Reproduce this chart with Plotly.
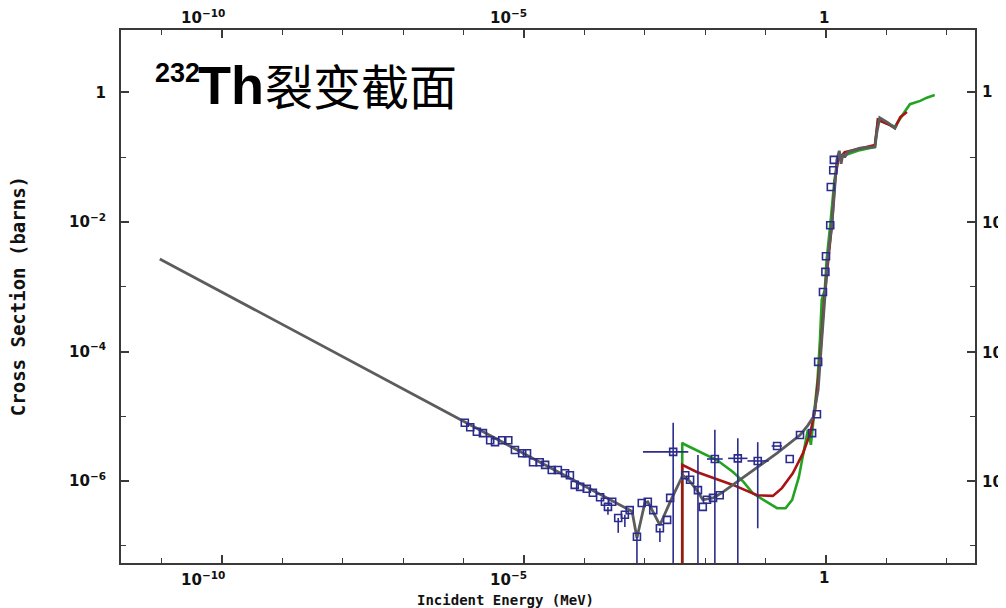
import numpy as np
import plotly.graph_objects as go

# ---- data (log10 of energy in MeV, log10 of cross section in barns) ----
gray_logE = [-11.03, -3.30, -3.21, -3.13, -3.00, -2.95, -2.75, -2.55, -2.37, -2.25, -2.14, -2.04,
             -1.87, -1.72, -1.47, -1.09, -0.81, -0.43, -0.30, -0.21, -0.13, -0.07, -0.02, 0.03,
             0.10, 0.15, 0.18, 0.22, 0.25, 0.28, 0.31, 0.36, 0.56, 0.81, 0.84, 0.89, 1.03, 1.14, 1.17]
gray_logS = [-2.57, -6.43, -6.47, -6.88, -6.34, -6.32, -6.68, -6.26, -5.91, -6.01, -6.14, -6.29,
             -6.26, -6.18, -6.01, -5.75, -5.57, -5.29, -5.14, -5.01, -4.59, -3.82, -3.10, -2.55,
             -2.02, -1.35, -1.04, -0.90, -1.10, -0.95, -1.00, -0.92, -0.86, -0.84, -0.63, -0.39,
             -0.47, -0.55, -0.50]

red_logE = [-2.38, -2.38, -2.14, -1.87, -1.54, -1.14, -0.88, -0.73, -0.55, -0.38, -0.26, -0.18,
            -0.10, -0.03, 0.03, 0.10, 0.15, 0.20, 0.31, 0.56, 0.81, 0.86, 1.03, 1.14, 1.23, 1.34]
red_logS = [-9.0, -5.75, -5.86, -5.95, -6.06, -6.22, -6.23, -6.11, -5.88, -5.57, -5.26, -4.90,
            -4.13, -3.20, -2.62, -2.02, -1.35, -1.04, -0.92, -0.86, -0.81, -0.42, -0.49, -0.55,
            -0.38, -0.30]

green_logE = [-2.38, -2.38, -2.33, -2.09, -1.80, -1.54, -1.37, -1.21, -0.98, -0.81, -0.67, -0.56,
              -0.45, -0.36, -0.30, -0.25, -0.19, -0.14, -0.10, -0.07, -0.02, 0.01, 0.07, 0.14,
              0.20, 0.31, 0.56, 0.81, 0.86, 1.03, 1.14, 1.30, 1.39, 1.56, 1.67, 1.80]
green_logS = [-9.0, -5.41, -5.44, -5.55, -5.68, -5.86, -6.01, -6.19, -6.32, -6.42, -6.42, -6.29,
              -5.94, -5.52, -5.21, -5.44, -4.94, -4.44, -3.82, -3.20, -3.05, -2.59, -2.05, -1.35,
              -1.04, -0.97, -0.89, -0.84, -0.42, -0.49, -0.53, -0.30, -0.18, -0.13, -0.08, -0.04]

# experimental points
pts_logE = [-5.98, -5.89, -5.78, -5.68, -5.56, -5.48, -5.36, -5.26, -5.15, -5.03, -4.95, -4.85,
            -4.74, -4.65, -4.54, -4.44, -4.32, -4.24, -4.16, -4.07, -3.96, -3.86, -3.74, -3.66,
            -3.61, -3.54, -3.44, -3.33, -3.25, -3.13, -3.05, -2.95, -2.86, -2.75, -2.63, -2.58,
            -2.53, -2.33, -2.25, -2.12, -2.04, -1.97, -1.87, -1.76, -1.84, -1.46, -1.13, -0.81,
            -0.60, -0.43, -0.23, -0.15, -0.13, -0.05, -0.01, 0.00, 0.07, 0.08, 0.12, 0.13]
pts_logS = [-5.10, -5.17, -5.24, -5.26, -5.37, -5.40, -5.37, -5.37, -5.52, -5.57, -5.57, -5.71,
            -5.71, -5.75, -5.83, -5.83, -5.88, -5.91, -6.06, -6.09, -6.12, -6.18, -6.25, -6.32,
            -6.40, -6.32, -6.57, -6.52, -6.45, -6.86, -6.34, -6.32, -6.45, -6.73, -6.60, -6.26,
            -5.55, -5.91, -5.98, -6.14, -6.40, -6.29, -6.26, -6.22, -5.66, -5.65, -5.69, -5.46,
            -5.66, -5.29, -5.26, -4.97, -4.16, -3.08, -2.77, -2.53, -2.05, -1.46, -1.20, -1.04]
# error bars: index -> (log upper, log lower), None = no bar on that side
err_y_log = {24: (None, -6.52), 26: (None, -6.80), 27: (None, -6.71), 29: (None, -9.0),
             33: (None, -6.94), 36: (-5.10, -9.0), 39: (-5.60, -9.0), 44: (-5.21, -9.0),
             45: (-5.34, -9.0), 46: (-5.40, -6.73)}
err_x_log = {36: (-2.28, -3.03), 44: (-1.71, -1.97), 45: (-1.30, -1.62), 46: (-0.95, -1.30),
             47: (-0.73, -0.90)}

x_tick_vals = [-10, -5, 0]
x_tick_text = ["10<sup>−10</sup>", "10<sup>−5</sup>", "1"]
y_tick_vals = [0, -2, -4, -6]
y_tick_text = ["1", "10<sup>−2</sup>", "10<sup>−4</sup>", "10<sup>−6</sup>"]

# ---- build ----
def lin(a):
    return 10.0 ** np.array(a, dtype=float)

pE, pS = lin(pts_logE), lin(pts_logS)
ey_p = np.zeros(len(pE)); ey_m = np.zeros(len(pE))
ex_p = np.zeros(len(pE)); ex_m = np.zeros(len(pE))
for i, (up, lo) in err_y_log.items():
    if up is not None:
        ey_p[i] = 10 ** up - pS[i]
    if lo is not None:
        ey_m[i] = pS[i] - 10 ** lo
for i, (hi, lo) in err_x_log.items():
    ex_p[i] = 10 ** hi - pE[i]
    ex_m[i] = pE[i] - 10 ** lo

navy = "#2c2c8c"
fig = go.Figure()
fig.add_trace(go.Scatter(x=lin(green_logE), y=lin(green_logS), mode="lines",
                         line=dict(color="#22a322", width=2.6), showlegend=False))
fig.add_trace(go.Scatter(x=lin(red_logE), y=lin(red_logS), mode="lines",
                         line=dict(color="#a81414", width=2.6), showlegend=False))
fig.add_trace(go.Scatter(x=lin(gray_logE), y=lin(gray_logS), mode="lines",
                         line=dict(color="#5c5c5c", width=2.8), showlegend=False))
fig.add_trace(go.Scatter(x=pE, y=pS, mode="markers",
                         marker=dict(symbol="square-open", size=7, color=navy,
                                     line=dict(width=1.6, color=navy)),
                         error_y=dict(type="data", symmetric=False, array=ey_p, arrayminus=ey_m,
                                      color=navy, thickness=1.6, width=0),
                         error_x=dict(type="data", symmetric=False, array=ex_p, arrayminus=ex_m,
                                      color=navy, thickness=1.6, width=0),
                         showlegend=False))

frame = "#3a3a3a"
tickfont = dict(family="DejaVu Sans", size=15, color="#111", weight="bold")
fig.update_xaxes(type="log", range=[-11.672, 2.467], showline=True, linecolor=frame, linewidth=2,
                 mirror="allticks", ticks="inside", ticklen=8, tickwidth=1.5, tickcolor=frame,
                 tickvals=[10.0 ** v for v in x_tick_vals], showticklabels=False,
                 showgrid=False, zeroline=False, automargin=False,
                 minor=dict(tickvals=[10.0 ** k for k in range(-11, 3)], ticks="inside",
                            ticklen=5, tickwidth=1.3, tickcolor=frame, showgrid=False))
fig.update_yaxes(type="log", range=[-7.266, 0.965], showline=True, linecolor=frame, linewidth=2,
                 mirror="allticks", ticks="inside", ticklen=8, tickwidth=1.5, tickcolor=frame,
                 tickvals=[10.0 ** v for v in y_tick_vals], ticktext=y_tick_text,
                 tickfont=tickfont, ticklabelstandoff=10, automargin=False,
                 showgrid=False, zeroline=False,
                 minor=dict(tickvals=[10.0 ** k for k in (-1, -3, -5, -7)], ticks="inside",
                            ticklen=5, tickwidth=1.3, tickcolor=frame, showgrid=False))

ann = []
for v, t in zip(x_tick_vals, x_tick_text):
    anchor = "center" if t == "1" else "right"
    shift = -2 if t == "1" else 5
    for yy, ya in ((1.0, "bottom"), (0.0, "top")):
        ann.append(dict(x=v, y=yy, xref="x", yref="paper", text=t, showarrow=False,
                        xanchor=anchor, yanchor=ya, xshift=shift,
                        yshift=1 if ya == "bottom" else -4, font=tickfont))
for v, t in zip(y_tick_vals, y_tick_text):
    ann.append(dict(x=1.0, y=v, xref="paper", yref="y", text=t, showarrow=False,
                    xanchor="left", yanchor="middle", xshift=5, font=tickfont))

mono = "DejaVu Sans Mono"
ann.append(dict(x=0.45, y=-0.069, xref="paper", yref="paper", text="Incident Energy (MeV)",
                showarrow=False, xanchor="center", yanchor="middle",
                font=dict(family=mono, size=14, color="#111", weight="bold")))
ann.append(dict(x=-0.121, y=0.5, xref="paper", yref="paper", text="Cross Section (barns)",
                showarrow=False, textangle=-90, xanchor="center", yanchor="middle",
                font=dict(family=mono, size=19, color="#111", weight="bold")))

# title pieces (positions in paper units of the plot area: plot area spans 121..975 x 30..563 px)
W, H, L, T = 854.0, 533.0, 121.0, 30.0
def px(xp):
    return (xp - L) / W
def py(yp):
    return 1 - (yp - T) / H
ann.append(dict(x=px(153), y=py(73), xref="paper", yref="paper", text="232", showarrow=False,
                xanchor="left", yanchor="middle",
                font=dict(family="Liberation Sans", size=27, color="#000", weight="bold")))
ann.append(dict(x=px(196), y=py(85), xref="paper", yref="paper", text="Th", showarrow=False,
                xanchor="left", yanchor="middle",
                font=dict(family="Liberation Sans", size=54, color="#000", weight="bold")))
ann.append(dict(x=px(263), y=py(84), xref="paper", yref="paper", text="裂变截面", showarrow=False,
                xanchor="left", yanchor="middle",
                font=dict(family="Noto Sans CJK SC", size=48, color="#000")))

# the page body has an 8 px margin, so the plot area is placed with that offset in mind
fig.update_layout(template="none", annotations=ann,
                  width=1006, height=608, margin=dict(l=113, r=39, t=22, b=53, autoexpand=False),
                  plot_bgcolor="white", paper_bgcolor="white", showlegend=False)
fig.write_html("out.html")
